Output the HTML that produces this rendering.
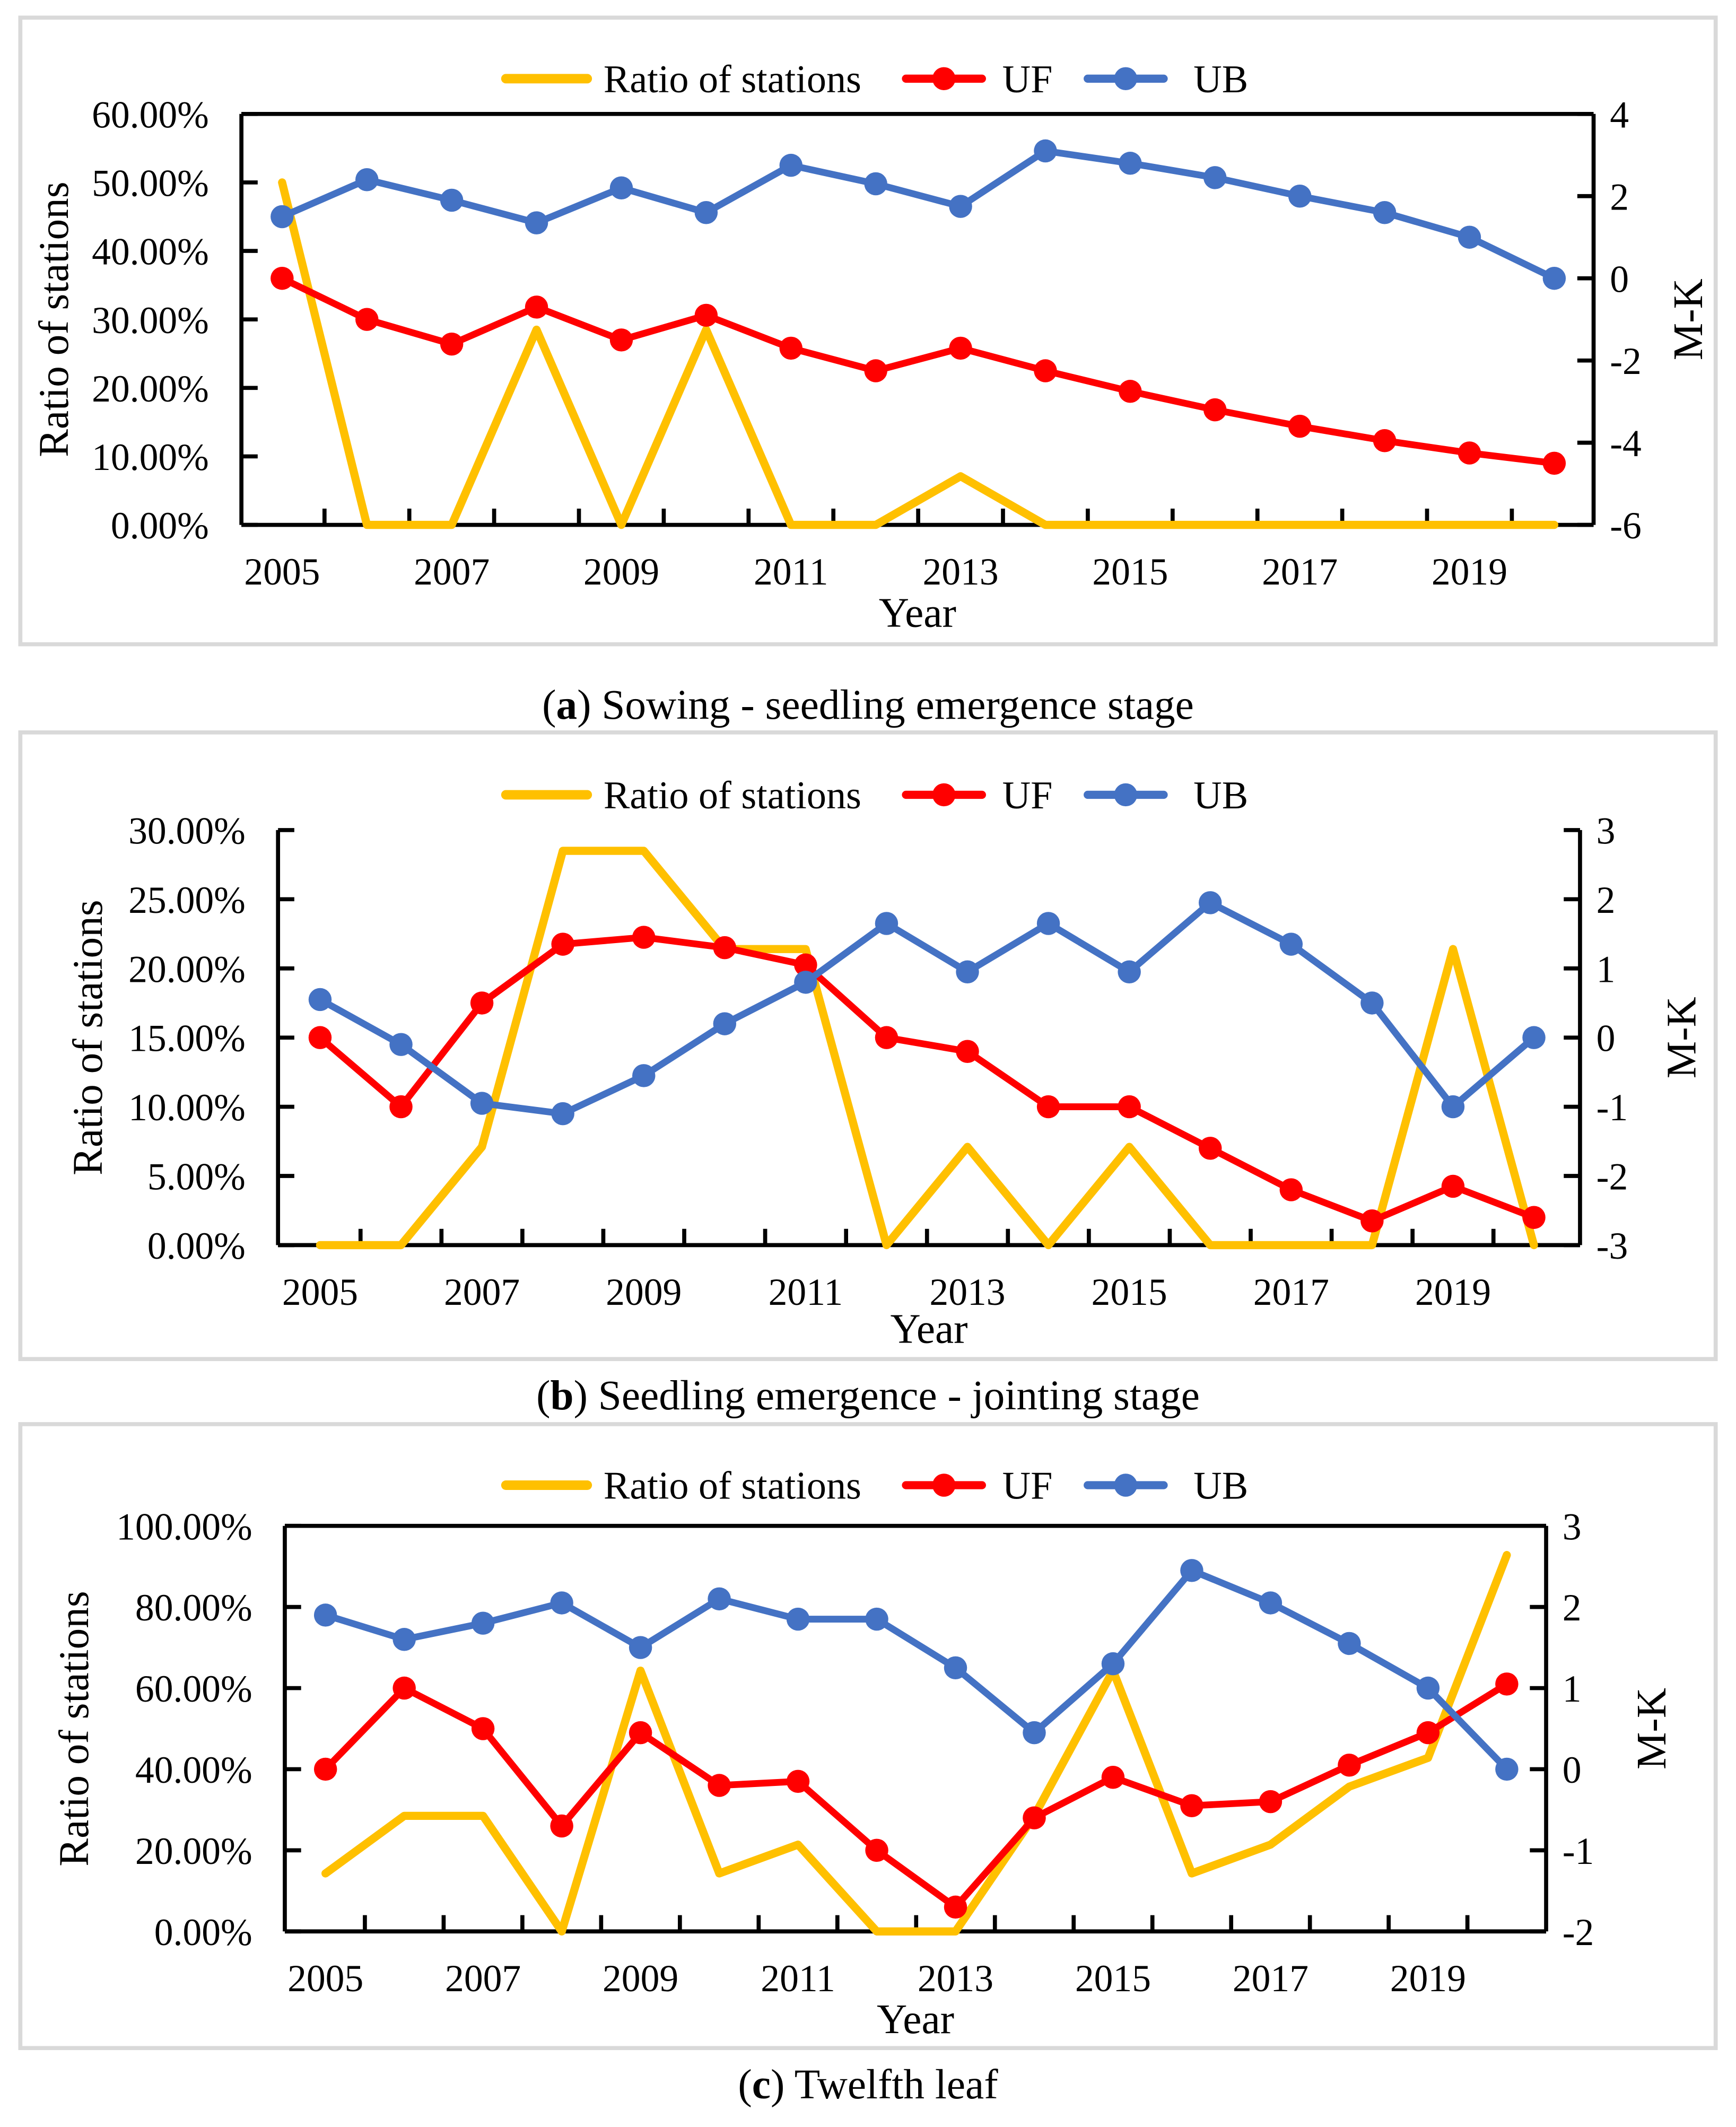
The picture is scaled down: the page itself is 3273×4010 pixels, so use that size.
<!DOCTYPE html>
<html><head><meta charset="utf-8"><style>
html,body{margin:0;padding:0;background:#fff;}
svg{display:block;}
text{font-family:"Liberation Serif","Times New Roman",serif;fill:#000;}
</style></head><body>
<svg id="s" width="3273" height="4010" viewBox="0 0 1280 1568.2" preserveAspectRatio="none" xmlns="http://www.w3.org/2000/svg" font-family="Liberation Serif, serif"></svg>
<script>
const years=[2005,2006,2007,2008,2009,2010,2011,2012,2013,2014,2015,2016,2017,2018,2019,2020];
const xTickLabels=["2005","2007","2009","2011","2013","2015","2017","2019"];
const ratioA=[50,0,0,28.5,0,28.5,0,0,7.1,0,0,0,0,0,0,0];
const ufA=[0,-1.0,-1.6,-0.7,-1.5,-0.9,-1.7,-2.25,-1.7,-2.25,-2.75,-3.2,-3.6,-3.95,-4.25,-4.5];
const ubA=[1.5,2.4,1.9,1.35,2.2,1.6,2.75,2.3,1.75,3.1,2.8,2.45,2.0,1.6,1.0,0];
const ratioB=[0,0,7.1,28.5,28.5,21.4,21.4,0,7.1,0,7.1,0,0,0,21.4,0];
const ufB=[0,-1.0,0.5,1.35,1.45,1.3,1.05,0,-0.2,-1.0,-1.0,-1.6,-2.2,-2.65,-2.15,-2.6];
const ubB=[0.55,-0.1,-0.95,-1.1,-0.55,0.2,0.8,1.65,0.95,1.65,0.95,1.95,1.35,0.5,-1.0,0];
const ratioC=[14.3,28.5,28.5,0,64.3,14.3,21.4,0,0,28.5,64.3,14.3,21.4,35.7,42.8,92.8];
const ufC=[0,1.0,0.5,-0.7,0.45,-0.2,-0.15,-1.0,-1.7,-0.6,-0.1,-0.45,-0.4,0.05,0.45,1.05];
const ubC=[1.9,1.6,1.8,2.05,1.5,2.1,1.85,1.85,1.25,0.45,1.3,2.45,2.05,1.55,1.0,0.0];

const NS="http://www.w3.org/2000/svg";
const svg=document.getElementById('s');
const FF='"Liberation Serif", serif';
function mk(tag,attrs,parent,txt){const e=document.createElementNS(NS,tag);for(const k in attrs)e.setAttribute(k,attrs[k]);if(tag==='text')e.setAttribute('font-family',FF);if(txt!==undefined)e.textContent=txt;(parent||svg).appendChild(e);return e;}

const panels=[
 {id:'a',box:[15,13,1250,462],L:178,R:1175,T:84,B:387,x0:208,x1:1146,lmax:60,lstep:10,rmin:-6,rmax:4,rstep:2,top:true,
  ratio:ratioA,uf:ufA,ub:ubA,legY:58,yearY:462,capY:530,cap:"Sowing - seedling emergence stage",ytX:40,mkX:1245},
 {id:'b',box:[15,540,1250,462],L:205,R:1165,T:612,B:918,x0:236,x1:1131,lmax:30,lstep:5,rmin:-3,rmax:3,rstep:1,top:false,
  ratio:ratioB,uf:ufB,ub:ubB,legY:586,yearY:990,capY:1039,cap:"Seedling emergence - jointing stage",ytX:65,mkX:1240},
 {id:'c',box:[15,1050,1250,460],L:210,R:1140,T:1125,B:1424,x0:240,x1:1111,lmax:100,lstep:20,rmin:-2,rmax:3,rstep:1,top:true,
  ratio:ratioC,uf:ufC,ub:ubC,legY:1095,yearY:1499,capY:1547,cap:"Twelfth leaf",ytX:55,mkX:1218}
];

panels.forEach(p=>{
 const g=mk('g',{});
 
 
 const fr=mk('rect',{x:p.box[0],y:p.box[1],width:p.box[2],height:p.box[3],fill:'none',stroke:'#d9d9d9','stroke-width':3},g);
 
 
 const n=years.length;
 const xs=i=>p.x0+(p.x1-p.x0)*i/(n-1);
 const yl=v=>p.B-(p.B-p.T)*v/p.lmax;
 const yr=v=>p.B-(p.B-p.T)*(v-p.rmin)/(p.rmax-p.rmin);
 const step=(p.x1-p.x0)/(n-1);
 const ax=mk('g',{stroke:'#000','stroke-width':3,fill:'none'},g);
 
 
 mk('line',{x1:p.L,y1:p.T,x2:p.L,y2:p.B},ax);
 mk('line',{x1:p.R,y1:p.T,x2:p.R,y2:p.B},ax);
 mk('line',{x1:p.L,y1:p.B,x2:p.R,y2:p.B},ax);
 if(p.top) mk('line',{x1:p.L,y1:p.T,x2:p.R,y2:p.T},ax);
 for(let i=0;i<n-1;i++){const x=xs(i)+step/2;mk('line',{x1:x,y1:p.B,x2:x,y2:p.B-12},ax);}
 for(let v=0;v<=p.lmax+0.001;v+=p.lstep){
  const y=yl(v);mk('line',{x1:p.L,y1:y,x2:p.L+12,y2:y},ax);
  const t=mk('text',{x:p.L-24,y:y+10,'font-size':28,'text-anchor':'end'},g,v.toFixed(2)+'%');
  
  
 }
 for(let v=p.rmin;v<=p.rmax;v+=p.rstep){
  const y=yr(v);mk('line',{x1:p.R,y1:y,x2:p.R-12,y2:y},ax);
  const t=mk('text',{x:p.R+12,y:y+10,'font-size':28},g,String(v));
  
  
 }
 xTickLabels.forEach(lb=>{
  const i=years.indexOf(+lb);
  const t=mk('text',{x:xs(i),y:p.B+44,'font-size':28,'text-anchor':'middle'},g,lb);
  
  
 });
 let t=mk('text',{x:(p.L+p.R)/2,y:p.yearY,'font-size':31,'text-anchor':'middle'},g,'Year');
 
 
 const cy=(p.T+p.B)/2;
 t=mk('text',{x:p.ytX,y:cy,'font-size':31,'text-anchor':'middle',transform:`rotate(-90 ${p.ytX} ${cy})`,dy:10},g,'Ratio of stations');
 
 
 t=mk('text',{x:p.mkX,y:cy,'font-size':31,'text-anchor':'middle',transform:`rotate(-90 ${p.mkX} ${cy})`,dy:10},g,'M-K');
 
 
 const pl=mk('polyline',{points:p.ratio.map((v,i)=>xs(i)+','+yl(v)).join(' '),fill:'none',stroke:'#ffc000','stroke-width':6,'stroke-linejoin':'round','stroke-linecap':'round'},g);
 
 
 [[p.uf,'#ff0000','uf'],[p.ub,'#4472c4','ub']].forEach(([arr,c,nm])=>{
  const l=mk('polyline',{points:arr.map((v,i)=>xs(i)+','+yr(v)).join(' '),fill:'none',stroke:c,'stroke-width':5,'stroke-linejoin':'round'},g);
  
  
  arr.forEach((v,i)=>{
   const d=mk('circle',{cx:xs(i),cy:yr(v),r:8.5,fill:c},g);
   
   
  });
 });
 const lg=mk('g',{},g);
 
 
 const ly=p.legY;
 mk('line',{x1:373,y1:ly,x2:433,y2:ly,stroke:'#ffc000','stroke-width':7,'stroke-linecap':'round'},lg);
 mk('text',{x:445,y:ly+10,'font-size':29},lg,'Ratio of stations');
 mk('line',{x1:668,y1:ly,x2:724,y2:ly,stroke:'#ff0000','stroke-width':6,'stroke-linecap':'round'},lg);
 mk('circle',{cx:696,cy:ly,r:8.5,fill:'#ff0000'},lg);
 mk('text',{x:739,y:ly+10,'font-size':29},lg,'UF');
 mk('line',{x1:802,y1:ly,x2:858,y2:ly,stroke:'#4472c4','stroke-width':6,'stroke-linecap':'round'},lg);
 mk('circle',{cx:830,cy:ly,r:8.5,fill:'#4472c4'},lg);
 mk('text',{x:880,y:ly+10,'font-size':29},lg,'UB');
 const cap=mk('text',{x:640,y:p.capY,'font-size':31,'text-anchor':'middle'},svg);
 
 
 mk('tspan',{},cap,'(');
 mk('tspan',{'font-weight':'bold'},cap,p.id);
 mk('tspan',{},cap,') '+p.cap);
});
</script>
</body></html>
